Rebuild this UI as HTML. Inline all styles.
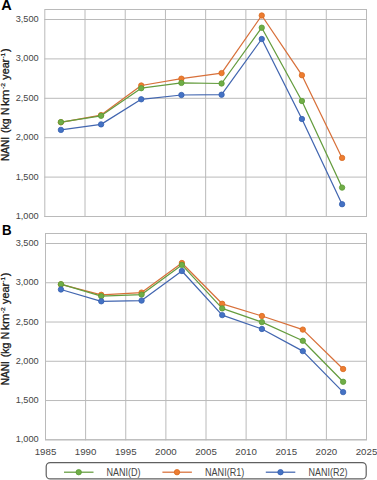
<!DOCTYPE html>
<html><head><meta charset="utf-8"><style>
html,body{margin:0;padding:0;background:#fff;width:377px;height:480px;overflow:hidden}
svg{display:block}
text{font-family:"Liberation Sans",sans-serif}
.yl,.xl{font-size:9.8px;fill:#454545}
.lg{font-size:10.4px;fill:#454545}
.pl{font-size:14.5px;font-weight:bold;fill:#000}
.yt{font-size:10px;font-weight:normal;fill:#1a1a1a;stroke:#1a1a1a;stroke-width:0.3px}
.yts{font-size:6px;font-weight:normal;fill:#1a1a1a;stroke:#1a1a1a;stroke-width:0.2px}
.sup{font-size:6.5px}
</style></head><body>
<svg width="377" height="480" viewBox="0 0 377 480">
<rect width="377" height="480" fill="#fff"/>
<rect x="44.8" y="9.5" width="321.7" height="207" fill="none" stroke="#bababa" stroke-width="1"/>
<line x1="44.3" y1="19.50" x2="367" y2="19.50" stroke="#bababa" stroke-width="1"/>
<text x="38.70" y="22.00" class="yl" text-anchor="end" textLength="23.0" lengthAdjust="spacingAndGlyphs">3,500</text>
<line x1="44.3" y1="58.90" x2="367" y2="58.90" stroke="#bababa" stroke-width="1"/>
<text x="38.70" y="61.40" class="yl" text-anchor="end" textLength="23.0" lengthAdjust="spacingAndGlyphs">3,000</text>
<line x1="44.3" y1="98.30" x2="367" y2="98.30" stroke="#bababa" stroke-width="1"/>
<text x="38.70" y="100.80" class="yl" text-anchor="end" textLength="23.0" lengthAdjust="spacingAndGlyphs">2,500</text>
<line x1="44.3" y1="137.70" x2="367" y2="137.70" stroke="#bababa" stroke-width="1"/>
<text x="38.70" y="140.20" class="yl" text-anchor="end" textLength="23.0" lengthAdjust="spacingAndGlyphs">2,000</text>
<line x1="44.3" y1="177.10" x2="367" y2="177.10" stroke="#bababa" stroke-width="1"/>
<text x="38.70" y="179.60" class="yl" text-anchor="end" textLength="23.0" lengthAdjust="spacingAndGlyphs">1,500</text>
<line x1="44.3" y1="216.50" x2="367" y2="216.50" stroke="#bababa" stroke-width="1"/>
<text x="38.70" y="219.00" class="yl" text-anchor="end" textLength="23.0" lengthAdjust="spacingAndGlyphs">1,000</text>
<line x1="85.01" y1="9" x2="85.01" y2="217" stroke="#bababa" stroke-width="1"/>
<line x1="125.22" y1="9" x2="125.22" y2="217" stroke="#bababa" stroke-width="1"/>
<line x1="165.44" y1="9" x2="165.44" y2="217" stroke="#bababa" stroke-width="1"/>
<line x1="205.65" y1="9" x2="205.65" y2="217" stroke="#bababa" stroke-width="1"/>
<line x1="245.86" y1="9" x2="245.86" y2="217" stroke="#bababa" stroke-width="1"/>
<line x1="286.07" y1="9" x2="286.07" y2="217" stroke="#bababa" stroke-width="1"/>
<line x1="326.29" y1="9" x2="326.29" y2="217" stroke="#bababa" stroke-width="1"/>
<polyline points="60.90,122.30 101.07,115.10 141.24,85.50 181.41,78.70 221.58,73.10 261.75,15.50 301.92,75.20 342.09,157.90" fill="none" stroke="#d8703a" stroke-width="1.25" stroke-linejoin="round"/>
<circle cx="60.90" cy="122.30" r="2.7" fill="#ED7D31" stroke="#d86a20" stroke-width="0.8"/>
<circle cx="101.07" cy="115.10" r="2.7" fill="#ED7D31" stroke="#d86a20" stroke-width="0.8"/>
<circle cx="141.24" cy="85.50" r="2.7" fill="#ED7D31" stroke="#d86a20" stroke-width="0.8"/>
<circle cx="181.41" cy="78.70" r="2.7" fill="#ED7D31" stroke="#d86a20" stroke-width="0.8"/>
<circle cx="221.58" cy="73.10" r="2.7" fill="#ED7D31" stroke="#d86a20" stroke-width="0.8"/>
<circle cx="261.75" cy="15.50" r="2.7" fill="#ED7D31" stroke="#d86a20" stroke-width="0.8"/>
<circle cx="301.92" cy="75.20" r="2.7" fill="#ED7D31" stroke="#d86a20" stroke-width="0.8"/>
<circle cx="342.09" cy="157.90" r="2.7" fill="#ED7D31" stroke="#d86a20" stroke-width="0.8"/>
<polyline points="60.90,122.10 101.07,115.80 141.24,88.20 181.41,82.90 221.58,83.50 261.75,27.70 301.92,101.00 342.09,187.60" fill="none" stroke="#649c3e" stroke-width="1.25" stroke-linejoin="round"/>
<circle cx="60.90" cy="122.10" r="2.7" fill="#70AD47" stroke="#5a9a35" stroke-width="0.8"/>
<circle cx="101.07" cy="115.80" r="2.7" fill="#70AD47" stroke="#5a9a35" stroke-width="0.8"/>
<circle cx="141.24" cy="88.20" r="2.7" fill="#70AD47" stroke="#5a9a35" stroke-width="0.8"/>
<circle cx="181.41" cy="82.90" r="2.7" fill="#70AD47" stroke="#5a9a35" stroke-width="0.8"/>
<circle cx="221.58" cy="83.50" r="2.7" fill="#70AD47" stroke="#5a9a35" stroke-width="0.8"/>
<circle cx="261.75" cy="27.70" r="2.7" fill="#70AD47" stroke="#5a9a35" stroke-width="0.8"/>
<circle cx="301.92" cy="101.00" r="2.7" fill="#70AD47" stroke="#5a9a35" stroke-width="0.8"/>
<circle cx="342.09" cy="187.60" r="2.7" fill="#70AD47" stroke="#5a9a35" stroke-width="0.8"/>
<polyline points="60.90,129.90 101.07,124.40 141.24,99.30 181.41,95.00 221.58,94.70 261.75,39.00 301.92,119.00 342.09,204.20" fill="none" stroke="#4266b0" stroke-width="1.25" stroke-linejoin="round"/>
<circle cx="60.90" cy="129.90" r="2.7" fill="#4472C4" stroke="#3560b0" stroke-width="0.8"/>
<circle cx="101.07" cy="124.40" r="2.7" fill="#4472C4" stroke="#3560b0" stroke-width="0.8"/>
<circle cx="141.24" cy="99.30" r="2.7" fill="#4472C4" stroke="#3560b0" stroke-width="0.8"/>
<circle cx="181.41" cy="95.00" r="2.7" fill="#4472C4" stroke="#3560b0" stroke-width="0.8"/>
<circle cx="221.58" cy="94.70" r="2.7" fill="#4472C4" stroke="#3560b0" stroke-width="0.8"/>
<circle cx="261.75" cy="39.00" r="2.7" fill="#4472C4" stroke="#3560b0" stroke-width="0.8"/>
<circle cx="301.92" cy="119.00" r="2.7" fill="#4472C4" stroke="#3560b0" stroke-width="0.8"/>
<circle cx="342.09" cy="204.20" r="2.7" fill="#4472C4" stroke="#3560b0" stroke-width="0.8"/>
<rect x="45.5" y="233.5" width="321" height="206.3" fill="none" stroke="#bababa" stroke-width="1"/>
<line x1="45" y1="243.50" x2="367" y2="243.50" stroke="#bababa" stroke-width="1"/>
<text x="38.70" y="246.00" class="yl" text-anchor="end" textLength="23.0" lengthAdjust="spacingAndGlyphs">3,500</text>
<line x1="45" y1="282.76" x2="367" y2="282.76" stroke="#bababa" stroke-width="1"/>
<text x="38.70" y="285.26" class="yl" text-anchor="end" textLength="23.0" lengthAdjust="spacingAndGlyphs">3,000</text>
<line x1="45" y1="322.02" x2="367" y2="322.02" stroke="#bababa" stroke-width="1"/>
<text x="38.70" y="324.52" class="yl" text-anchor="end" textLength="23.0" lengthAdjust="spacingAndGlyphs">2,500</text>
<line x1="45" y1="361.28" x2="367" y2="361.28" stroke="#bababa" stroke-width="1"/>
<text x="38.70" y="363.78" class="yl" text-anchor="end" textLength="23.0" lengthAdjust="spacingAndGlyphs">2,000</text>
<line x1="45" y1="400.54" x2="367" y2="400.54" stroke="#bababa" stroke-width="1"/>
<text x="38.70" y="403.04" class="yl" text-anchor="end" textLength="23.0" lengthAdjust="spacingAndGlyphs">1,500</text>
<line x1="45" y1="439.80" x2="367" y2="439.80" stroke="#bababa" stroke-width="1"/>
<text x="38.70" y="442.30" class="yl" text-anchor="end" textLength="23.0" lengthAdjust="spacingAndGlyphs">1,000</text>
<line x1="85.62" y1="233" x2="85.62" y2="440.3" stroke="#bababa" stroke-width="1"/>
<line x1="125.75" y1="233" x2="125.75" y2="440.3" stroke="#bababa" stroke-width="1"/>
<line x1="165.88" y1="233" x2="165.88" y2="440.3" stroke="#bababa" stroke-width="1"/>
<line x1="206.00" y1="233" x2="206.00" y2="440.3" stroke="#bababa" stroke-width="1"/>
<line x1="246.12" y1="233" x2="246.12" y2="440.3" stroke="#bababa" stroke-width="1"/>
<line x1="286.25" y1="233" x2="286.25" y2="440.3" stroke="#bababa" stroke-width="1"/>
<line x1="326.38" y1="233" x2="326.38" y2="440.3" stroke="#bababa" stroke-width="1"/>
<polyline points="60.95,284.40 101.26,294.80 141.57,292.60 181.88,263.00 222.19,303.80 261.90,316.00 302.81,329.60 343.12,369.05" fill="none" stroke="#d8703a" stroke-width="1.25" stroke-linejoin="round"/>
<circle cx="60.95" cy="284.40" r="2.7" fill="#ED7D31" stroke="#d86a20" stroke-width="0.8"/>
<circle cx="101.26" cy="294.80" r="2.7" fill="#ED7D31" stroke="#d86a20" stroke-width="0.8"/>
<circle cx="141.57" cy="292.60" r="2.7" fill="#ED7D31" stroke="#d86a20" stroke-width="0.8"/>
<circle cx="181.88" cy="263.00" r="2.7" fill="#ED7D31" stroke="#d86a20" stroke-width="0.8"/>
<circle cx="222.19" cy="303.80" r="2.7" fill="#ED7D31" stroke="#d86a20" stroke-width="0.8"/>
<circle cx="261.90" cy="316.00" r="2.7" fill="#ED7D31" stroke="#d86a20" stroke-width="0.8"/>
<circle cx="302.81" cy="329.60" r="2.7" fill="#ED7D31" stroke="#d86a20" stroke-width="0.8"/>
<circle cx="343.12" cy="369.05" r="2.7" fill="#ED7D31" stroke="#d86a20" stroke-width="0.8"/>
<polyline points="60.95,284.20 101.26,296.20 141.57,294.60 181.88,264.90 222.19,308.40 261.90,322.10 302.81,340.80 343.12,381.80" fill="none" stroke="#649c3e" stroke-width="1.25" stroke-linejoin="round"/>
<circle cx="60.95" cy="284.20" r="2.7" fill="#70AD47" stroke="#5a9a35" stroke-width="0.8"/>
<circle cx="101.26" cy="296.20" r="2.7" fill="#70AD47" stroke="#5a9a35" stroke-width="0.8"/>
<circle cx="141.57" cy="294.60" r="2.7" fill="#70AD47" stroke="#5a9a35" stroke-width="0.8"/>
<circle cx="181.88" cy="264.90" r="2.7" fill="#70AD47" stroke="#5a9a35" stroke-width="0.8"/>
<circle cx="222.19" cy="308.40" r="2.7" fill="#70AD47" stroke="#5a9a35" stroke-width="0.8"/>
<circle cx="261.90" cy="322.10" r="2.7" fill="#70AD47" stroke="#5a9a35" stroke-width="0.8"/>
<circle cx="302.81" cy="340.80" r="2.7" fill="#70AD47" stroke="#5a9a35" stroke-width="0.8"/>
<circle cx="343.12" cy="381.80" r="2.7" fill="#70AD47" stroke="#5a9a35" stroke-width="0.8"/>
<polyline points="60.95,289.50 101.26,301.30 141.57,300.60 181.88,271.00 222.19,315.10 261.90,329.00 302.81,351.10 343.12,392.10" fill="none" stroke="#4266b0" stroke-width="1.25" stroke-linejoin="round"/>
<circle cx="60.95" cy="289.50" r="2.7" fill="#4472C4" stroke="#3560b0" stroke-width="0.8"/>
<circle cx="101.26" cy="301.30" r="2.7" fill="#4472C4" stroke="#3560b0" stroke-width="0.8"/>
<circle cx="141.57" cy="300.60" r="2.7" fill="#4472C4" stroke="#3560b0" stroke-width="0.8"/>
<circle cx="181.88" cy="271.00" r="2.7" fill="#4472C4" stroke="#3560b0" stroke-width="0.8"/>
<circle cx="222.19" cy="315.10" r="2.7" fill="#4472C4" stroke="#3560b0" stroke-width="0.8"/>
<circle cx="261.90" cy="329.00" r="2.7" fill="#4472C4" stroke="#3560b0" stroke-width="0.8"/>
<circle cx="302.81" cy="351.10" r="2.7" fill="#4472C4" stroke="#3560b0" stroke-width="0.8"/>
<circle cx="343.12" cy="392.10" r="2.7" fill="#4472C4" stroke="#3560b0" stroke-width="0.8"/>
<text x="45.50" y="455.20" class="xl" text-anchor="middle" textLength="21.6" lengthAdjust="spacingAndGlyphs">1985</text>
<text x="85.62" y="455.20" class="xl" text-anchor="middle" textLength="21.6" lengthAdjust="spacingAndGlyphs">1990</text>
<text x="125.75" y="455.20" class="xl" text-anchor="middle" textLength="21.6" lengthAdjust="spacingAndGlyphs">1995</text>
<text x="165.88" y="455.20" class="xl" text-anchor="middle" textLength="21.6" lengthAdjust="spacingAndGlyphs">2000</text>
<text x="206.00" y="455.20" class="xl" text-anchor="middle" textLength="21.6" lengthAdjust="spacingAndGlyphs">2005</text>
<text x="246.12" y="455.20" class="xl" text-anchor="middle" textLength="21.6" lengthAdjust="spacingAndGlyphs">2010</text>
<text x="286.25" y="455.20" class="xl" text-anchor="middle" textLength="21.6" lengthAdjust="spacingAndGlyphs">2015</text>
<text x="326.38" y="455.20" class="xl" text-anchor="middle" textLength="21.6" lengthAdjust="spacingAndGlyphs">2020</text>
<text x="366.50" y="455.20" class="xl" text-anchor="middle" textLength="21.6" lengthAdjust="spacingAndGlyphs">2025</text>
<text x="1.2" y="10" class="pl">A</text>
<text x="2.0" y="235.2" class="pl" textLength="9.6" lengthAdjust="spacingAndGlyphs">B</text>
<text id="ta0" transform="translate(9.2,161.10) rotate(-90)" class="yt" textLength="24.10" lengthAdjust="spacingAndGlyphs">NANI</text>
<text id="ta1" transform="translate(9.2,132.95) rotate(-90)" class="yt" textLength="14.60" lengthAdjust="spacingAndGlyphs">(kg</text>
<text id="ta2" transform="translate(9.2,114.95) rotate(-90)" class="yt" textLength="7.40" lengthAdjust="spacingAndGlyphs">N</text>
<text id="ta3" transform="translate(9.2,106.10) rotate(-90)" class="yt" textLength="16.50" lengthAdjust="spacingAndGlyphs">km</text>
<text id="ta4" transform="translate(4.5,89.10) rotate(-90)" class="yts" textLength="6.00" lengthAdjust="spacingAndGlyphs">-2</text>
<text id="ta5" transform="translate(9.2,79.70) rotate(-90)" class="yt" textLength="20.90" lengthAdjust="spacingAndGlyphs">year</text>
<text id="ta6" transform="translate(4.5,58.50) rotate(-90)" class="yts" textLength="5.60" lengthAdjust="spacingAndGlyphs">-1</text>
<text id="ta7" transform="translate(9.2,52.10) rotate(-90)" class="yt" textLength="3.60" lengthAdjust="spacingAndGlyphs">)</text>
<text id="tb0" transform="translate(9.2,385.30) rotate(-90)" class="yt" textLength="24.10" lengthAdjust="spacingAndGlyphs">NANI</text>
<text id="tb1" transform="translate(9.2,357.15) rotate(-90)" class="yt" textLength="14.60" lengthAdjust="spacingAndGlyphs">(kg</text>
<text id="tb2" transform="translate(9.2,339.15) rotate(-90)" class="yt" textLength="7.40" lengthAdjust="spacingAndGlyphs">N</text>
<text id="tb3" transform="translate(9.2,330.30) rotate(-90)" class="yt" textLength="16.50" lengthAdjust="spacingAndGlyphs">km</text>
<text id="tb4" transform="translate(4.5,313.30) rotate(-90)" class="yts" textLength="6.00" lengthAdjust="spacingAndGlyphs">-2</text>
<text id="tb5" transform="translate(9.2,303.90) rotate(-90)" class="yt" textLength="20.90" lengthAdjust="spacingAndGlyphs">year</text>
<text id="tb6" transform="translate(4.5,282.70) rotate(-90)" class="yts" textLength="5.60" lengthAdjust="spacingAndGlyphs">-1</text>
<text id="tb7" transform="translate(9.2,276.30) rotate(-90)" class="yt" textLength="3.60" lengthAdjust="spacingAndGlyphs">)</text>
<rect x="46.2" y="462.6" width="320" height="16.3" rx="4" ry="4" fill="none" stroke="#606060" stroke-width="1.2"/>
<line x1="64" y1="472.2" x2="93.5" y2="472.2" stroke="#649c3e" stroke-width="1.25"/>
<circle cx="78.7" cy="472.2" r="2.7" fill="#70AD47" stroke="#5a9a35" stroke-width="0.8"/>
<text x="106.40" y="476.20" class="lg" textLength="34.2" lengthAdjust="spacingAndGlyphs">NANI(D)</text>
<line x1="162.4" y1="472.2" x2="191.9" y2="472.2" stroke="#d8703a" stroke-width="1.25"/>
<circle cx="177" cy="472.2" r="2.7" fill="#ED7D31" stroke="#d86a20" stroke-width="0.8"/>
<text x="205.00" y="476.20" class="lg" textLength="39.3" lengthAdjust="spacingAndGlyphs">NANI(R1)</text>
<line x1="265.8" y1="472.2" x2="295.3" y2="472.2" stroke="#4266b0" stroke-width="1.25"/>
<circle cx="280.5" cy="472.2" r="2.7" fill="#4472C4" stroke="#3560b0" stroke-width="0.8"/>
<text x="308.50" y="476.20" class="lg" textLength="39.0" lengthAdjust="spacingAndGlyphs">NANI(R2)</text>
</svg>
</body></html>
